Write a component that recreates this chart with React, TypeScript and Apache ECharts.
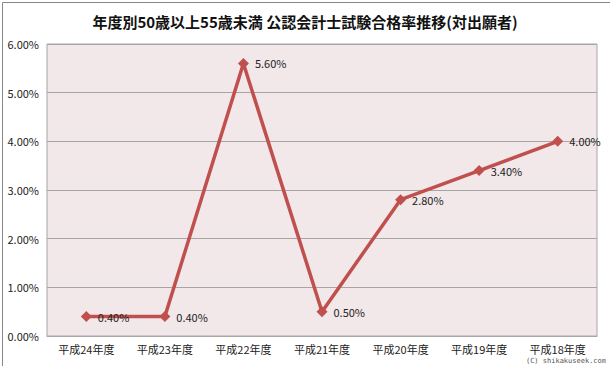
import React, { useEffect, useRef } from "react";
import * as echarts from "echarts";

const titleText = "年度別50歳以上55歳未満 公認会計士試験合格率推移(対出願者)";
const categories = ["平成24年度", "平成23年度", "平成22年度", "平成21年度", "平成20年度", "平成19年度", "平成18年度"];
const rates = [0.4, 0.4, 5.6, 0.5, 2.8, 3.4, 4.0];
const watermark = "(C) shikakuseek.com";

export default function App() {
  const ref = useRef<HTMLDivElement>(null);
  useEffect(() => {
    const chart = echarts.init(ref.current!, null, { renderer: "svg" });
    const font = "'Noto Sans CJK JP', 'Noto Sans', sans-serif";
    chart.setOption({
      animation: false,
      backgroundColor: "#ffffff",
      title: {
        text: titleText,
        left: "center",
        top: 9,
        textStyle: { fontSize: 15, fontWeight: "bold", color: "#111", fontFamily: font },
      },
      grid: { left: 47, right: 13, top: 44, bottom: 30, show: true, backgroundColor: "#F2E7E9", borderColor: "#A6A6A6", borderWidth: 1 },
      xAxis: {
        type: "category",
        data: categories,
        boundaryGap: true,
        axisLine: { show: true, lineStyle: { color: "#A6A6A6" } },
        axisTick: { show: false },
        axisLabel: { color: "#222", fontSize: 11, fontFamily: font, margin: 7 },
      },
      yAxis: {
        type: "value",
        min: 0,
        max: 6,
        interval: 1,
        axisLine: { show: false },
        axisTick: { show: false },
        splitLine: { lineStyle: { color: "#A6A6A6", width: 1 } },
        axisLabel: { color: "#222", fontSize: 11, fontFamily: font, margin: 8, formatter: (v: number) => v.toFixed(2) + "%" },
      },
      series: [
        {
          type: "line",
          data: rates,
          symbol: "diamond",
          symbolSize: 11,
          itemStyle: { color: "#C0504D" },
          lineStyle: { color: "#C0504D", width: 3.5 },
          label: {
            show: true,
            position: "right",
            distance: 6,
            color: "#222",
            fontSize: 11,
            fontFamily: font,
            formatter: (p: any) => p.value.toFixed(2) + "%",
          },
        },
      ],
      graphic: [
        {
          type: "rect",
          left: 0,
          top: 0,
          shape: { x: 0.5, y: 0.5, width: 609, height: 365 },
          style: { fill: "none", stroke: "#888", lineWidth: 1 },
          silent: true,
        },
        {
          type: "text",
          right: 4,
          bottom: 2,
          style: { text: watermark, fontSize: 7, fill: "#555", fontFamily: "'DejaVu Sans Mono', monospace" },
        },
      ],
    });
    return () => chart.dispose();
  }, []);
  return <div ref={ref} style={{ width: 610, height: 366, position: "absolute", left: 0, top: 0 }} />;
}
